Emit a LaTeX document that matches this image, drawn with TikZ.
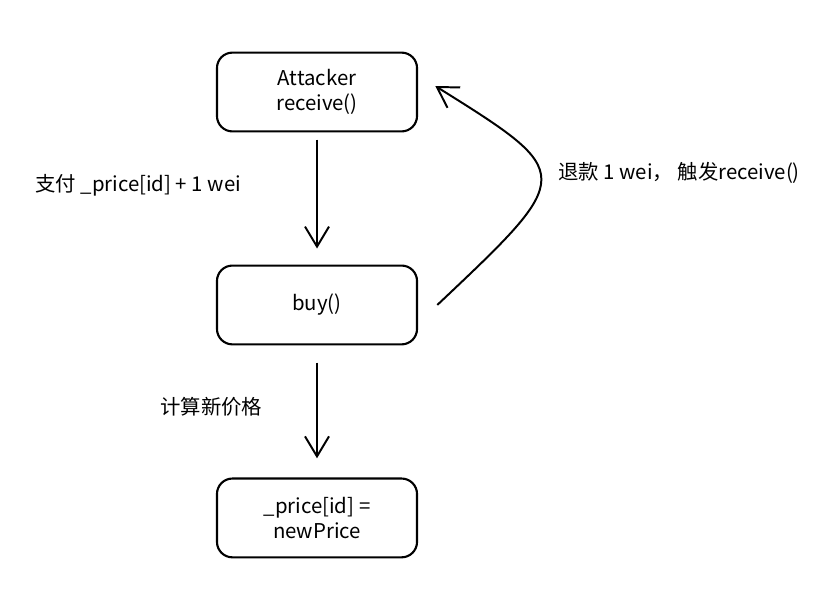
\documentclass[tikz,border=0pt]{standalone}
\usepackage{fontspec}
\setmainfont{Noto Sans CJK SC}
\usetikzlibrary{arrows.meta,positioning}

\begin{document}
\begin{tikzpicture}[
    x=0.025cm, y=-0.025cm,
    node distance=3.3cm,
    flowbox/.style={rectangle, draw=black, line width=1.5pt, minimum width=5cm, minimum height=1.97cm, align=center, rounded corners=11pt, font=\fontsize{14.5}{18}\selectfont},
    flowarrow/.style={-{Straight Barb[length=5mm,width=6mm]}, line width=1.4pt},
    steplabel/.style={anchor=west, inner sep=0pt, font=\fontsize{14.5}{18}\selectfont}
]
\useasboundingbox (0,0) rectangle (820,601);
\node[flowbox] (attacker) at (317,92) {Attacker\\receive()};
\node[flowbox, below=of attacker] (buy) {buy()};
\node[flowbox, below=of buy] (update) {\_price[id] =\\newPrice};

\node[steplabel] (paylbl) at (35,185) {支付 \_price[id] + 1 wei};
\node[steplabel] (refundlbl) at (558,173) {退款 1 wei， 触发receive()};
\node[steplabel] (calclbl) at (160,407) {计算新价格};

\draw[flowarrow, shorten <=0.18cm, shorten >=0.4cm] (attacker) -- (buy);
\draw[flowarrow, shorten <=0.43cm, shorten >=0.48cm] (buy) -- (update);
\draw[flowarrow] ([xshift=0.48cm]buy.east) .. controls (576,174) .. ([xshift=0.43cm,yshift=0.15cm]attacker.east);
\end{tikzpicture}
\end{document}
